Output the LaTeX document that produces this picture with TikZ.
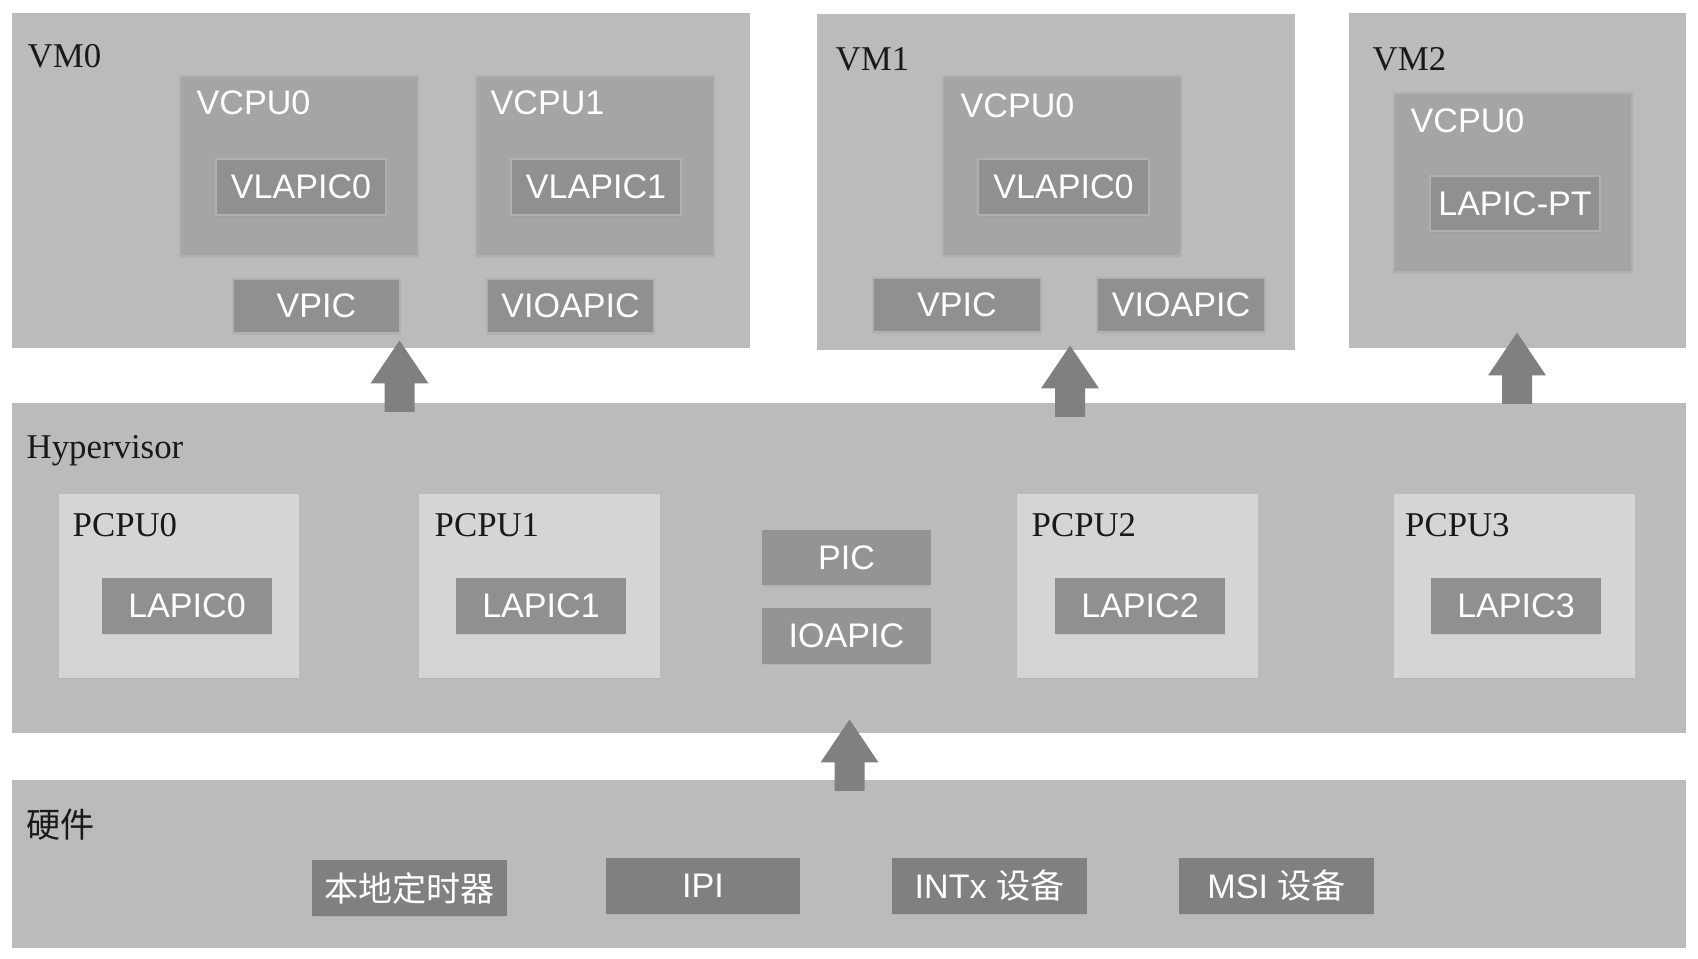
\documentclass[tikz,border=0pt]{standalone}
\usepackage{fontspec}
\setmainfont{Liberation Serif}
\setsansfont{Liberation Sans}
\newfontfamily\cjk{Noto Sans CJK SC}
\usepackage{tikz}
\usetikzlibrary{shadows}
\definecolor{layergray}{gray}{0.733}
\definecolor{vcpugray}{gray}{0.647}
\definecolor{pcpugray}{gray}{0.835}
\definecolor{reggray}{gray}{0.565}
\definecolor{devgray}{gray}{0.5}
\definecolor{rimgray}{gray}{0.69}
\tikzset{layer/.style={rectangle, fill=layergray, inner sep=0pt}}
\tikzset{cpubox/.style={rectangle, fill=vcpugray, draw=rimgray, line width=0.4pt, inner sep=0pt,
  drop shadow={shadow xshift=0pt, shadow yshift=-0.7pt, opacity=0.12}}}
\tikzset{pcpubox/.style={cpubox, fill=pcpugray, draw=pcpugray}}
\tikzset{regbox/.style={rectangle, fill=reggray, draw=rimgray, line width=0.4pt, inner sep=0pt,
  text=white, font=\sffamily\fontsize{9.7}{11}\selectfont, minimum height=.54cm,
  drop shadow={shadow xshift=0pt, shadow yshift=-0.7pt, opacity=0.15}}}
\tikzset{devbox/.style={regbox, fill=devgray, draw=devgray}}
\tikzset{tag/.style={anchor=base west, inner sep=0pt, text=black!90, font=\fontsize{9.9}{11}\selectfont}}
\tikzset{cputag/.style={anchor=base west, inner sep=0pt, text=white, font=\sffamily\fontsize{9.7}{11}\selectfont}}
\newcommand{\upblock}[1]{\fill[devgray] (#1) ++(-.15,0) -- ++(0,.285) -- ++(-.14,0) -- ++(.29,.43)
  -- ++(.29,-.43) -- ++(-.14,0) -- ++(0,-.285) -- cycle;}

\begin{document}
\begin{tikzpicture}[]
  \useasboundingbox (0,0) rectangle (16.98,9.59);
  \fill[white] (0,0) rectangle (16.98,9.59);

  % layers
  \node[layer, minimum width = 7.38cm, minimum height = 3.35cm] (vm0) at (3.81,7.785) {};
  \node[layer, minimum width = 4.78cm, minimum height = 3.36cm] (vm1) at (10.56,7.77) {};
  \node[layer, minimum width = 3.37cm, minimum height = 3.35cm] (vm2) at (15.175,7.785) {};
  \node[layer, minimum width = 16.74cm, minimum height = 3.30cm] (hv) at (8.49,3.91) {};
  \node[layer, minimum width = 16.74cm, minimum height = 1.68cm] (hw) at (8.49,0.95) {};

  \node[tag] (vm0tag) at (0.27,8.91) {VM0};
  \node[tag] (vm1tag) at (8.35,8.88) {VM1};
  \node[tag] (vm2tag) at (13.72,8.88) {VM2};
  \node[tag] (hvtag) at (0.26,5.00) {Hypervisor};
  \node[tag, font=\cjk\fontsize{9.7}{11}\selectfont] (hwtag) at (0.26,1.21) {硬件};

  % VM0
  \node[cpubox, minimum width = 2.38cm, minimum height = 1.80cm] (vm0cpu0) at (2.99,7.93) {};
  \node[cpubox, minimum width = 2.38cm, minimum height = 1.80cm] (vm0cpu1) at (5.95,7.93) {};
  \node[cputag] (vm0cpu0tag) at (1.96,8.44) {VCPU0};
  \node[cputag] (vm0cpu1tag) at (4.90,8.44) {VCPU1};
  \node[regbox, minimum width = 1.70cm, minimum height = .56cm] (vlapic00) at (3.01,7.72) {VLAPIC0};
  \node[regbox, minimum width = 1.70cm, minimum height = .56cm] (vlapic01) at (5.96,7.72) {VLAPIC1};
  \node[regbox, minimum width = 1.67cm] (vpic0) at (3.165,6.53) {VPIC};
  \node[regbox, minimum width = 1.67cm] (vioapic0) at (5.705,6.53) {VIOAPIC};

  % VM1
  \node[cpubox, minimum width = 2.38cm, minimum height = 1.80cm] (vm1cpu0) at (10.62,7.93) {};
  \node[cputag] (vm1cpu0tag) at (9.60,8.41) {VCPU0};
  \node[regbox, minimum width = 1.71cm, minimum height = .56cm] (vlapic10) at (10.635,7.72) {VLAPIC0};
  \node[regbox, minimum width = 1.68cm] (vpic1) at (9.57,6.54) {VPIC};
  \node[regbox, minimum width = 1.68cm] (vioapic1) at (11.81,6.54) {VIOAPIC};

  % VM2
  \node[cpubox, minimum width = 2.38cm, minimum height = 1.79cm] (vm2cpu0) at (15.13,7.765) {};
  \node[cputag] (vm2cpu0tag) at (14.10,8.26) {VCPU0};
  \node[regbox, minimum width = 1.70cm, minimum height = .55cm] (lapicpt) at (15.15,7.555) {LAPIC-PT};

  % Hypervisor
  \node[pcpubox, minimum width = 2.38cm, minimum height = 1.82cm] (pcpu0) at (1.79,3.73) {};
  \node[pcpubox, minimum width = 2.39cm, minimum height = 1.82cm] (pcpu1) at (5.395,3.73) {};
  \node[pcpubox, minimum width = 2.39cm, minimum height = 1.82cm] (pcpu2) at (11.375,3.73) {};
  \node[pcpubox, minimum width = 2.39cm, minimum height = 1.82cm] (pcpu3) at (15.145,3.73) {};
  \node[tag] (pcpu0tag) at (0.72,4.22) {PCPU0};
  \node[tag] (pcpu1tag) at (4.34,4.22) {PCPU1};
  \node[tag] (pcpu2tag) at (10.31,4.22) {PCPU2};
  \node[tag] (pcpu3tag) at (14.045,4.22) {PCPU3};
  \node[regbox, minimum width = 1.68cm, draw=reggray] (lapic0) at (1.87,3.53) {LAPIC0};
  \node[regbox, minimum width = 1.68cm, draw=reggray] (lapic1) at (5.41,3.53) {LAPIC1};
  \node[regbox, minimum width = 1.69cm, draw=reggray] (lapic2) at (11.40,3.53) {LAPIC2};
  \node[regbox, minimum width = 1.68cm, draw=reggray] (lapic3) at (15.16,3.53) {LAPIC3};
  \node[regbox, minimum width = 1.67cm, fill=black!42, draw=black!42] (pic) at (8.465,4.015) {PIC};
  \node[regbox, minimum width = 1.67cm, fill=black!42, draw=black!42] (ioapic) at (8.465,3.23) {IOAPIC};

  % hardware
  \node[devbox, minimum width = 1.93cm] (timer) at (4.095,0.71) {\cjk 本地定时器};
  \node[devbox, minimum width = 1.92cm] (ipi) at (7.03,0.73) {IPI};
  \node[devbox, minimum width = 1.93cm] (intx) at (9.895,0.73) {INTx {\cjk 设备}};
  \node[devbox, minimum width = 1.93cm] (msi) at (12.765,0.73) {MSI {\cjk 设备}};

  % arrows
  \coordinate (up0) at (3.995,5.47);
  \coordinate (up1) at (10.70,5.42);
  \coordinate (up2) at (15.17,5.55);
  \coordinate (uphw) at (8.495,1.68);
  \upblock{up0}
  \upblock{up1}
  \upblock{up2}
  \upblock{uphw}

\end{tikzpicture}
\end{document}
